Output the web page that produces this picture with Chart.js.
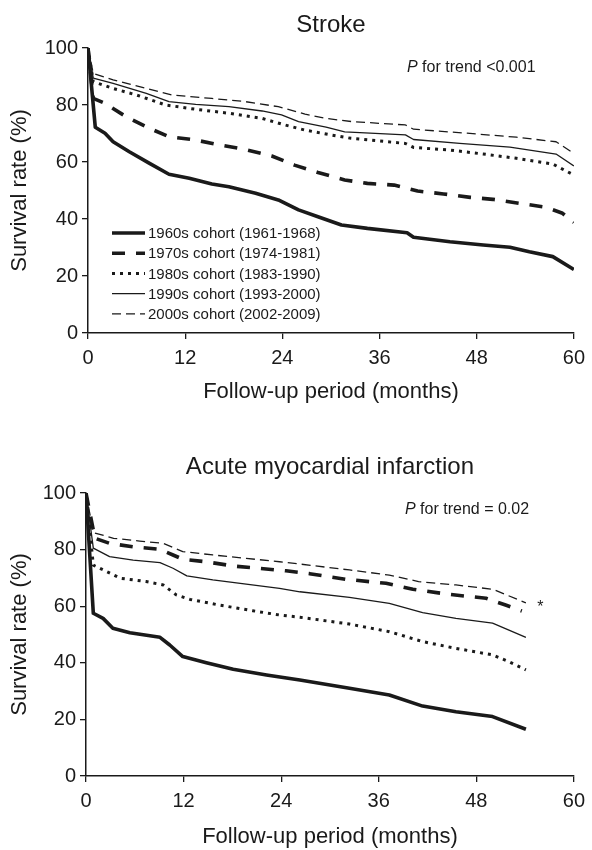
<!DOCTYPE html>
<html><head><meta charset="utf-8">
<script src="https://cdn.jsdelivr.net/npm/chart.js@4"></script>
<style>
html,body{margin:0;padding:0;background:#fff;}
#wrap{position:relative;width:592px;height:850px;overflow:hidden;}
canvas{position:absolute;left:0;}
</style></head><body>
<div id="wrap">
<canvas id="c1" width="592" height="420" style="top:0px"></canvas>
<canvas id="c2" width="592" height="430" style="top:420px"></canvas>
</div>
<script>
// ---------- DATA ----------
const cohortLabels = ["1960s cohort (1961-1968)", "1970s cohort (1974-1981)", "1980s cohort (1983-1990)", "1990s cohort (1993-2000)", "2000s cohort (2002-2009)"];
const xTicks = [0, 12, 24, 36, 48, 60];
const yTicks = [0, 20, 40, 60, 80, 100];

// Stroke
const strokeMonths1960 = [0, 0.9, 2.1, 3.1, 5.1, 7.6, 10.0, 12.5, 15.3, 17.4, 20.7, 23.5, 26.0, 28.4, 31.3, 34.5, 39.4, 40.2, 44.7, 48.8, 52.1, 54.5, 57.4, 60];
const strokeSurv1960   = [100, 72.2, 70.1, 67.1, 63.6, 59.5, 55.7, 54.3, 52.3, 51.3, 49.0, 46.7, 43.2, 40.8, 37.9, 36.7, 35.2, 33.6, 32.0, 30.9, 30.1, 28.5, 26.8, 22.3];
const strokeMonths1970 = [0, 0.65, 2.1, 4.7, 7.6, 10.0, 13.3, 16.2, 19.4, 22.7, 25.5, 28.4, 31.7, 34.5, 37.8, 40.7, 43.9, 47.2, 50.0, 53.3, 56.6, 58.6, 60];
const strokeSurv1970   = [100, 82.3, 80.6, 75.9, 71.8, 68.9, 67.7, 66.0, 64.4, 62.1, 58.9, 56.3, 53.7, 52.5, 51.9, 49.8, 48.8, 47.6, 46.9, 45.5, 44.1, 42.0, 38.8];
const strokeMonths1980 = [0, 0.65, 3.1, 6.0, 9.6, 13.3, 17.4, 21.5, 24.3, 26.8, 29.4, 32.5, 39.2, 40.2, 44.7, 48.8, 52.9, 57.4, 60];
const strokeSurv1980   = [100, 88.2, 85.8, 83.5, 80.0, 78.5, 77.1, 75.3, 73.0, 71.2, 69.8, 68.3, 66.5, 65.1, 64.2, 62.8, 61.3, 59.3, 55.4];
const strokeMonths1990 = [0, 0.65, 3.1, 7.2, 10.0, 13.3, 17.4, 21.5, 23.9, 26.0, 29.4, 31.7, 39.2, 40.2, 45.9, 52.1, 57.8, 60];
const strokeSurv1990   = [100, 89.4, 87.6, 84.1, 81.2, 80.2, 79.4, 77.9, 76.5, 74.2, 72.2, 70.6, 69.5, 67.9, 66.5, 65.2, 62.8, 58.6];
const strokeMonths2000 = [0, 0.65, 3.1, 7.2, 10.4, 15.3, 19.4, 23.5, 26.8, 29.4, 32.5, 39.2, 40.2, 46.8, 52.9, 57.8, 60];
const strokeSurv2000   = [100, 91.1, 88.8, 85.8, 83.5, 82.3, 81.2, 79.4, 76.8, 75.3, 74.2, 73.0, 71.5, 70.1, 68.7, 67.1, 63.0];

// Acute myocardial infarction
const amiMonths1960 = [0, 0.9, 2.1, 3.3, 5.4, 9.1, 10.3, 11.9, 14.8, 18.1, 22.2, 26.3, 32.4, 37.3, 41.4, 45.5, 50.0, 54.1];
const amiSurv1960   = [100, 57.5, 55.7, 52.2, 50.6, 49.0, 46.3, 42.2, 40.0, 37.7, 35.7, 33.9, 31.0, 28.6, 24.7, 22.7, 21.0, 16.5];
const amiMonths1970 = [0, 1.1, 2.9, 5.8, 9.1, 10.7, 11.9, 14.8, 18.1, 21.3, 24.6, 27.5, 32.0, 36.9, 40.2, 44.3, 49.2, 51.6, 53.6];
const amiSurv1970   = [100, 84.0, 82.2, 81.0, 80.1, 78.1, 76.6, 75.7, 74.2, 73.4, 72.5, 71.5, 69.5, 68.1, 66.0, 64.3, 62.8, 60.4, 58.3];
const amiMonths1980 = [0, 0.9, 1.7, 4.2, 7.4, 9.5, 11.1, 12.8, 16.4, 20.5, 23.8, 26.3, 32.4, 37.3, 41.4, 45.5, 50.0, 52.0, 54.1];
const amiSurv1980   = [100, 74.5, 73.4, 69.9, 68.7, 67.5, 64.0, 62.4, 60.4, 58.4, 56.9, 56.1, 53.7, 51.0, 47.5, 45.1, 42.8, 40.4, 37.5];
const amiMonths1990 = [0, 0.9, 2.9, 5.8, 9.1, 10.7, 12.4, 15.6, 19.7, 23.8, 26.3, 32.4, 37.3, 41.4, 45.5, 50.0, 54.1];
const amiSurv1990   = [100, 80.5, 77.5, 76.3, 75.4, 73.4, 70.7, 69.3, 67.8, 66.3, 65.1, 63.1, 61.0, 57.7, 55.7, 54.0, 49.0];
const amiMonths2000 = [0, 0.9, 3.4, 6.6, 9.5, 11.9, 15.6, 19.7, 23.8, 26.3, 32.4, 37.3, 40.9, 45.5, 50.0, 54.1];
const amiSurv2000   = [100, 86.0, 84.0, 83.0, 82.2, 79.3, 78.1, 76.9, 75.7, 74.9, 72.8, 71.0, 68.7, 67.5, 66.0, 61.2];

const strokeTitle = "Stroke";
const amiTitle = "Acute myocardial infarction";
const strokeTrend = " for trend <0.001";
const amiTrend = " for trend = 0.02";
const amiMarker = {month: 55.5, surv: 61.0, text: "*"};

// ---------- STYLE / DRAWING ----------
const FAM = '"Liberation Sans", Arial, Helvetica, sans-serif';
const INK = '#1a1a1a';
const lineStyles = [
  {w: 3.6, dash: [], cap: 'butt'},
  {w: 3.6, dash: [13, 11], cap: 'butt'},
  {w: 3.0, dash: [3, 5], cap: 'butt'},
  {w: 1.3, dash: [], cap: 'butt'},
  {w: 1.3, dash: [9, 5], cap: 'butt'}
];

function mkDatasets(monthsList, survList) {
  return monthsList.map((ms, i) => ({
    label: cohortLabels[i],
    data: ms.map((m, j) => ({x: m, y: survList[i][j]})),
    borderColor: INK,
    backgroundColor: INK,
    borderWidth: lineStyles[i].w,
    borderDash: lineStyles[i].dash,
    borderCapStyle: lineStyles[i].cap,
    borderJoinStyle: 'round',
    pointRadius: 0,
    tension: 0,
    fill: false
  }));
}

const annot = {
  id: 'annot',
  afterDraw(chart, args, o) {
    const {ctx, chartArea: a} = chart;
    ctx.save();
    ctx.fillStyle = INK;
    ctx.textBaseline = 'alphabetic';
    ctx.textAlign = 'center';
    ctx.font = `24px ${FAM}`;
    ctx.fillText(o.title, (a.left + a.right) / 2, o.titleY);
    ctx.textAlign = 'left';
    ctx.font = `italic 16px ${FAM}`;
    ctx.fillText('P', o.px, o.py);
    const w = ctx.measureText('P').width;
    ctx.font = `16px ${FAM}`;
    ctx.fillText(o.trend, o.px + w, o.py);
    if (o.marker) {
      const xs = chart.scales.x, ys = chart.scales.y;
      ctx.font = `16px ${FAM}`;
      ctx.textBaseline = 'middle';
      ctx.fillText(o.marker.text, xs.getPixelForValue(o.marker.month), ys.getPixelForValue(o.marker.surv) + 4);
    }
    if (o.legend) {
      const L = o.legend;
      ctx.font = `15px ${FAM}`;
      ctx.textBaseline = 'middle';
      chart.data.datasets.forEach((ds, i) => {
        const y = L.y0 + i * L.dy;
        ctx.save();
        ctx.strokeStyle = ds.borderColor;
        ctx.lineWidth = ds.borderWidth;
        ctx.setLineDash(ds.borderDash || []);
        ctx.lineCap = ds.borderCapStyle;
        ctx.beginPath();
        ctx.moveTo(L.x0, y);
        ctx.lineTo(L.x1, y);
        ctx.stroke();
        ctx.restore();
        ctx.fillText(ds.label, L.tx, y + 1);
      });
    }
    ctx.restore();
  }
};

function mkChart(id, datasets, g) {
  const axisCommon = {
    grid: {drawOnChartArea: false, drawTicks: true, tickLength: 6, color: INK, lineWidth: 1.3},
    border: {display: true, color: INK, width: 1.5}
  };
  return new Chart(document.getElementById(id), {
    type: 'line',
    data: {datasets},
    plugins: [annot],
    options: {
      responsive: false,
      animation: false,
      events: [],
      layout: {padding: {top: g.top, right: g.right, bottom: 0, left: 0}},
      plugins: {
        legend: {display: false},
        tooltip: {enabled: false},
        title: {display: false},
        annot: g.annot
      },
      scales: {
        x: Object.assign({}, axisCommon, {
          type: 'linear', min: 0, max: 60,
          afterFit: s => { s.height = g.xh; },
          afterBuildTicks: s => { s.ticks = xTicks.map(v => ({value: v})); },
          ticks: {font: {size: 20, family: FAM}, color: INK, padding: 7, maxRotation: 0, autoSkip: false},
          title: {display: true, text: 'Follow-up period (months)', color: INK, font: {size: 22, family: FAM}, padding: {top: 0, bottom: g.xtpb}}
        }),
        y: Object.assign({}, axisCommon, {
          type: 'linear', min: 0, max: 100,
          afterFit: s => { s.width = g.left; },
          afterBuildTicks: s => { s.ticks = yTicks.map(v => ({value: v})); },
          ticks: {font: {size: 20, family: FAM}, color: INK, padding: 4, autoSkip: false},
          title: {display: true, text: 'Survival rate (%)', color: INK, font: {size: 22, family: FAM}, padding: {top: 7, bottom: 0}}
        })
      }
    }
  });
}

mkChart('c1',
  mkDatasets([strokeMonths1960, strokeMonths1970, strokeMonths1980, strokeMonths1990, strokeMonths2000],
             [strokeSurv1960, strokeSurv1970, strokeSurv1980, strokeSurv1990, strokeSurv2000]),
  {top: 48, right: 14, left: 88, xh: 87, xtpb: 15,
   annot: {title: strokeTitle, titleY: 32, px: 407, py: 72, trend: strokeTrend,
           legend: {x0: 112, x1: 145, tx: 148, y0: 233, dy: 20.2}}});

mkChart('c2',
  mkDatasets([amiMonths1960, amiMonths1970, amiMonths1980, amiMonths1990, amiMonths2000],
             [amiSurv1960, amiSurv1970, amiSurv1980, amiSurv1990, amiSurv2000]),
  {top: 73, right: 17, left: 86, xh: 74, xtpb: 0,
   annot: {title: amiTitle, titleY: 54, px: 405, py: 94, trend: amiTrend, marker: amiMarker}});
</script>
</body></html>
